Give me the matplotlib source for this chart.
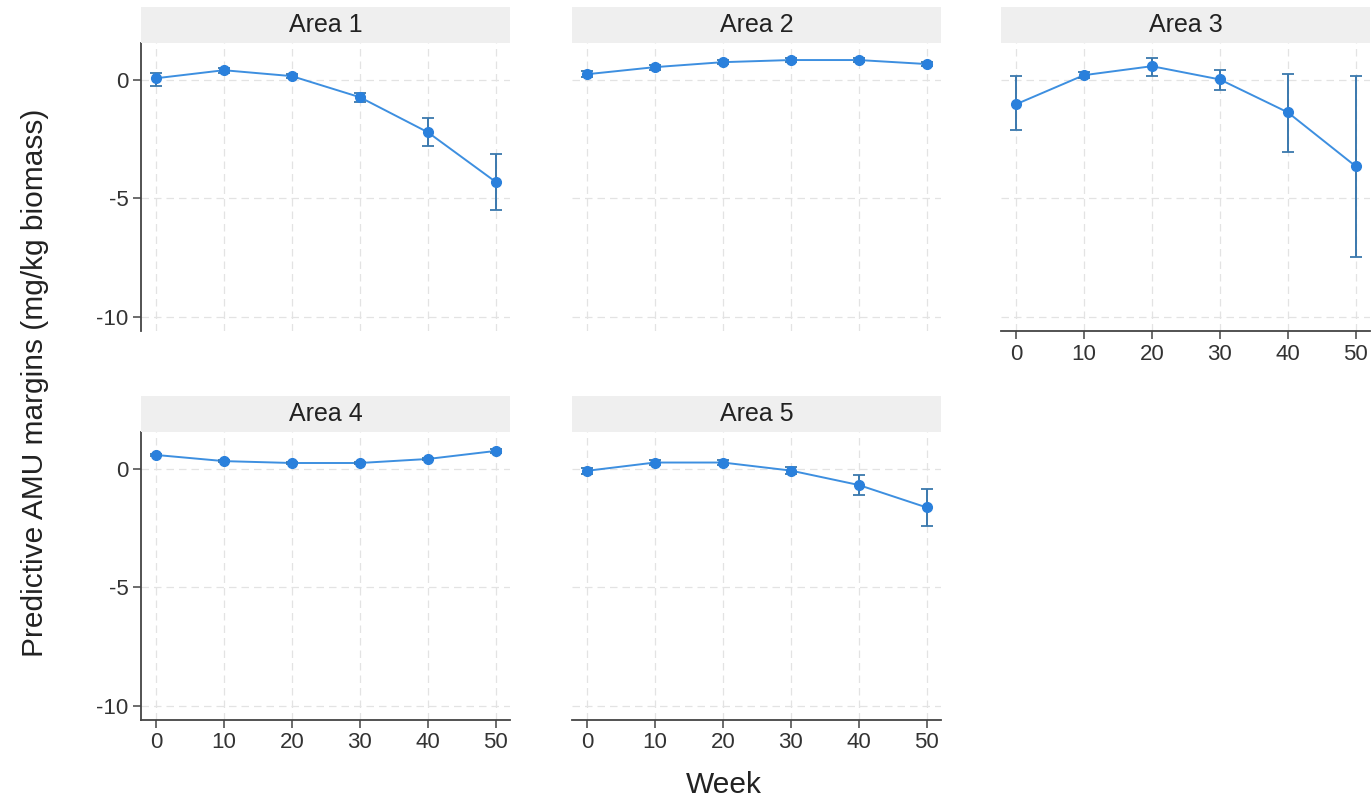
import matplotlib
matplotlib.use("Agg")
import matplotlib.pyplot as plt

plt.rcParams['font.family'] = ['Liberation Sans', 'DejaVu Sans']
plt.rcParams['axes.unicode_minus'] = False

weeks = [0, 10, 20, 30, 40, 50]
area_names = ["Area 1", "Area 2", "Area 3", "Area 4", "Area 5"]

area1_mean = [0.08, 0.42, 0.17, -0.72, -2.20, -4.30]
area1_lo = [-0.25, 0.32, 0.07, -0.93, -2.80, -5.50]
area1_hi = [0.30, 0.52, 0.27, -0.54, -1.60, -3.13]

area2_mean = [0.25, 0.55, 0.76, 0.85, 0.85, 0.68]
area2_lo = [0.12, 0.44, 0.68, 0.77, 0.77, 0.60]
area2_hi = [0.38, 0.66, 0.84, 0.93, 0.93, 0.76]

area3_mean = [-1.02, 0.21, 0.59, 0.03, -1.36, -3.64]
area3_lo = [-2.12, 0.09, 0.17, -0.40, -3.05, -7.46]
area3_hi = [0.17, 0.33, 0.93, 0.42, 0.25, 0.17]

area4_mean = [0.60, 0.34, 0.26, 0.26, 0.43, 0.77]
area4_lo = [0.54, 0.29, 0.21, 0.21, 0.37, 0.70]
area4_hi = [0.66, 0.39, 0.31, 0.31, 0.49, 0.84]

area5_mean = [-0.07, 0.28, 0.28, -0.06, -0.67, -1.62]
area5_lo = [-0.20, 0.19, 0.17, -0.22, -1.11, -2.40]
area5_hi = [0.06, 0.37, 0.39, 0.10, -0.24, -0.83]

means = [area1_mean, area2_mean, area3_mean, area4_mean, area5_mean]
los = [area1_lo, area2_lo, area3_lo, area4_lo, area5_lo]
his = [area1_hi, area2_hi, area3_hi, area4_hi, area5_hi]

yticks = [0, -5, -10]
xticks = [0, 10, 20, 30, 40, 50]

W, H = 1372, 801
fig = plt.figure(figsize=(W / 100, H / 100), dpi=100)

col_left = [141, 572, 1001]
col_w = 369
row_top = [43, 432]
row_h = 288
strip_h = 36

line_c = '#3d8fe0'
mark_c = '#2a80dc'
err_c = '#3a78ad'
spine_c = '#444444'
grid_c = '#e3e3e3'

positions = [(0, 0), (0, 1), (0, 2), (1, 0), (1, 1)]
for i, (r, c) in enumerate(positions):
    left = col_left[c] / W
    bottom = 1 - (row_top[r] + row_h) / H
    ax = fig.add_axes([left, bottom, col_w / W, row_h / H])
    m = means[i]
    lo = [m[k] - los[i][k] for k in range(len(m))]
    hi = [his[i][k] - m[k] for k in range(len(m))]
    ax.plot(weeks, m, color=line_c, lw=1.4, zorder=3)
    ax.errorbar(weeks, m, yerr=[lo, hi], fmt='none', ecolor=err_c,
                elinewidth=1.4, capsize=4, capthick=1.3, zorder=4)
    ax.plot(weeks, m, 'o', color=mark_c, ms=7, zorder=5)
    ax.set_xlim(-2.2, 52.1)
    ax.set_ylim(-10.6, 1.57)
    ax.set_xticks(xticks)
    ax.set_yticks(yticks)
    ax.grid(True, color=grid_c, ls=(0, (6, 4)), lw=0.9)
    ax.set_axisbelow(True)
    for s in ax.spines.values():
        s.set_visible(False)
        s.set_color(spine_c)
        s.set_linewidth(1.3)
    show_x = i in (2, 3, 4)
    show_y = c == 0
    if show_x:
        ax.spines['bottom'].set_visible(True)
    if show_y:
        ax.spines['left'].set_visible(True)
    ax.tick_params(axis='x', bottom=show_x, labelbottom=show_x, length=6,
                   width=1.1, color=spine_c, labelsize=16, labelcolor='#333333', pad=3)
    ax.tick_params(axis='y', left=show_y, labelleft=show_y, length=6,
                   width=1.1, color=spine_c, labelsize=16, labelcolor='#333333', pad=3)
    # strip
    sax = fig.add_axes([left, 1 - (row_top[r]) / H, col_w / W, strip_h / H])
    sax.set_facecolor('#efefef')
    sax.set_xticks([])
    sax.set_yticks([])
    for s in sax.spines.values():
        s.set_visible(False)
    sax.text(0.5, 0.5, area_names[i], ha='center', va='center',
             fontsize=18, color='#222222', transform=sax.transAxes)

fig.text(35 / W, 1 - 383 / H, "Predictive AMU margins (mg/kg biomass)",
         rotation=90, ha='center', va='center', fontsize=21.5, color='#222222')
fig.text(724 / W, 1 - 785 / H, "Week", ha='center', va='center',
         fontsize=21.5, color='#222222')

fig.savefig("out.png", dpi=100, facecolor='white')
